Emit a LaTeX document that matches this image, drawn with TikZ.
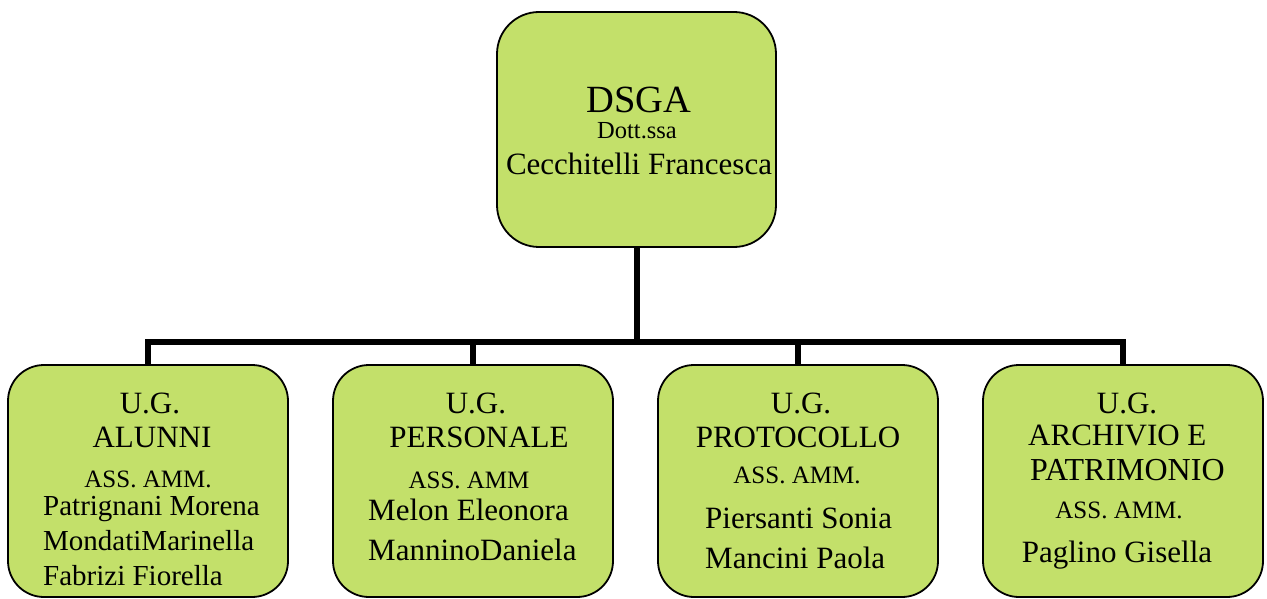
\documentclass[tikz,border=0pt]{standalone}
\usepackage{fontspec}
\setmainfont{Liberation Serif}
\definecolor{boxgreen}{RGB}{195,224,106}
\tikzset{
  unitbox/.style={draw=black, line width=1.8pt, fill=boxgreen, rounded corners=36pt,
    minimum width=280pt, minimum height=232pt, inner sep=0pt},
  ughead/.style={anchor=base, inner sep=0pt, font=\fontsize{31}{31}\selectfont},
  assrole/.style={anchor=base, inner sep=0pt, font=\fontsize{25}{25}\selectfont},
  staff/.style={anchor=base west, inner sep=0pt, font=\fontsize{31}{31}\selectfont},
  bus/.style={line width=6pt}
}
\begin{document}
\begin{tikzpicture}[x=1pt,y=-1pt]
  \useasboundingbox (0,0) rectangle (1267,599);
  % boxes
  \node[unitbox, rounded corners=42pt, minimum width=279pt, minimum height=235pt] (dsga) at (636.5,129.5) {};
  \node[unitbox] (alunni) at (148,481) {};
  \node[unitbox] (personale) at (473,481) {};
  \node[unitbox] (protocollo) at (798,481) {};
  \node[unitbox] (archivio) at (1123,481) {};
  % connectors
  \coordinate (bus) at (0,342);
  \foreach \u in {alunni,personale,protocollo,archivio}
    \draw[bus] (dsga.south) -- (dsga.south |- bus) -| (\u.north);
  % top
  \node[anchor=base, inner sep=0pt, font=\fontsize{38.5}{38.5}\selectfont] (dsgaT) at (639,113) {DSGA};
  \node[anchor=base, inner sep=0pt, font=\fontsize{24.5}{24.5}\selectfont] (dott) at (637,139) {Dott.ssa};
  \node[ughead] (cecch) at (639,175) {Cecchitelli Francesca};
  % alunni
  \node[ughead] (ug1) at (150,413) {U.G.};
  \node[ughead] (al1) at (152,447) {ALUNNI};
  \node[assrole] (ass1) at (148,487) {ASS. AMM.};
  \node[staff, font=\fontsize{29}{29}\selectfont] (patr) at (43,515) {Patrignani Morena};
  \node[staff, font=\fontsize{29}{29}\selectfont] (mond) at (43,550) {MondatiMarinella};
  \node[staff, font=\fontsize{29}{29}\selectfont] (fabr) at (43,585) {Fabrizi Fiorella};
  % personale
  \node[ughead] (ug2) at (476,413) {U.G.};
  \node[ughead] (pe2) at (479,447) {PERSONALE};
  \node[assrole] (ass2) at (469,488) {ASS. AMM};
  \node[staff] (melo) at (368,520) {Melon Eleonora};
  \node[staff] (mann) at (368,560) {ManninoDaniela};
  % protocollo
  \node[ughead] (ug3) at (801,413) {U.G.};
  \node[ughead] (pr3) at (798,447) {PROTOCOLLO};
  \node[assrole] (ass3) at (797,483) {ASS. AMM.};
  \node[staff] (pier) at (705,528) {Piersanti Sonia};
  \node[staff] (manc) at (705,568) {Mancini Paola};
  % archivio
  \node[ughead] (ug4) at (1127,413) {U.G.};
  \node[staff] (ar4) at (1028,445) {ARCHIVIO E};
  \node[staff, font=\fontsize{32}{32}\selectfont] (pa4) at (1030,480) {PATRIMONIO};
  \node[assrole] (ass4) at (1119,518) {ASS. AMM.};
  \node[ughead] (pagl) at (1117,562) {Paglino Gisella};
\end{tikzpicture}
\end{document}
